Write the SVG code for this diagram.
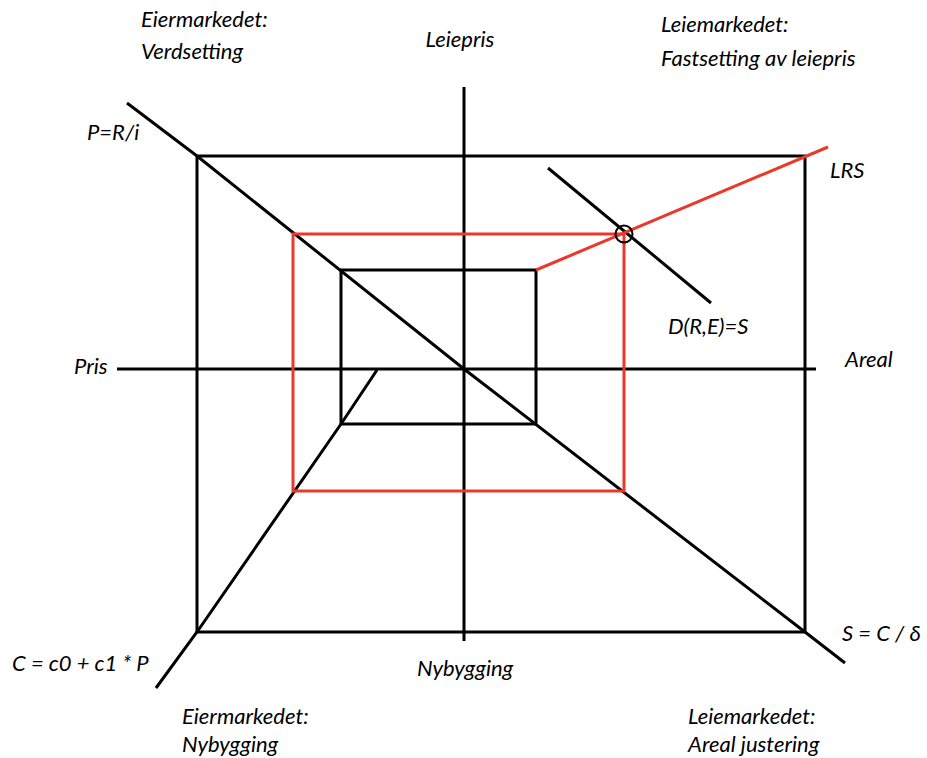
<svg xmlns="http://www.w3.org/2000/svg" width="927" height="758" viewBox="0 0 927 758">
<style>
.l{stroke:#000;stroke-width:3;fill:none;stroke-linecap:butt}
.r{stroke:#e8392b;stroke-width:3;fill:none}
text{font-family:Lato,"Open Sans","Liberation Sans",sans-serif;font-style:italic;font-size:22px;fill:#000}
</style>
<rect width="927" height="758" fill="#fff"/>
<g id="connectors">
<line class="l" x1="464" y1="87" x2="464" y2="641"/>
<line class="l" x1="117" y1="369" x2="816" y2="369"/>
<rect id="outer" class="l" x="197" y="156" width="608" height="476"/>
<rect id="inner" class="l" x="341" y="270" width="195" height="154"/>
<polyline class="l" points="127,103 197,156 464,369 805,632 845,663"/>
<polyline class="l" points="156,688 197,632 341,424 377,370"/>
<line class="l" x1="548" y1="168" x2="711" y2="303"/>
<rect id="red" class="r" x="293" y="234" width="331" height="257"/>
<line class="r" x1="536" y1="270" x2="828" y2="147"/>
<circle cx="624" cy="234" r="8.5" fill="none" stroke="#000" stroke-width="2"/>
</g>
<g id="labels">
<text x="141" y="27">Eiermarkedet:</text>
<text x="141" y="59">Verdsetting</text>
<text x="460" y="47" text-anchor="middle">Leiepris</text>
<text x="661" y="32">Leiemarkedet:</text>
<text x="661" y="66">Fastsetting av leiepris</text>
<text x="87" y="140">P=R/i</text>
<text x="830" y="178">LRS</text>
<text x="668" y="334">D(R,E)=S</text>
<text x="74" y="374">Pris</text>
<text x="845" y="367">Areal</text>
<text x="12" y="671">C = c0 + c1 * P</text>
<text x="842" y="641">S = C / δ</text>
<text x="417" y="676">Nybygging</text>
<text x="182" y="724">Eiermarkedet:</text>
<text x="182" y="752">Nybygging</text>
<text x="688" y="724">Leiemarkedet:</text>
<text x="688" y="752">Areal justering</text>
</g>
</svg>
